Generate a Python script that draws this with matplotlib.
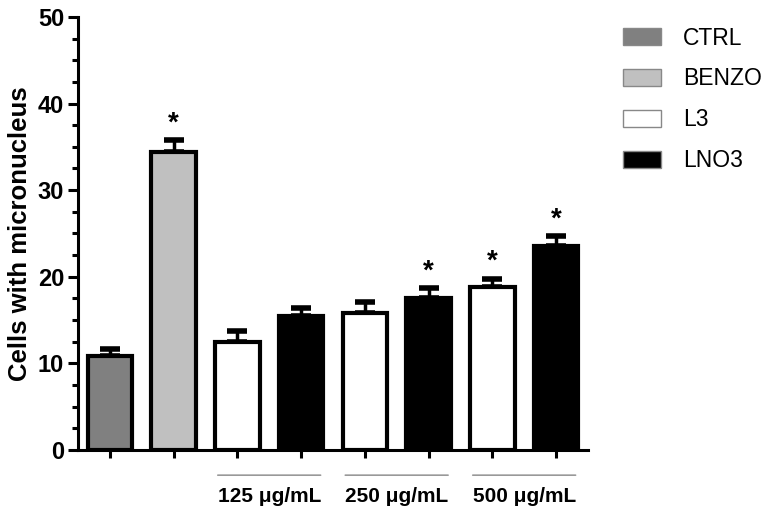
import matplotlib.pyplot as plt
from matplotlib.patches import Patch
from matplotlib.ticker import MultipleLocator

# Data
groups = ["CTRL", "BENZO", "L3", "LNO3", "L3", "LNO3", "L3", "LNO3"]
means = [10.8, 34.4, 12.5, 15.5, 15.8, 17.5, 18.8, 23.5]
errors = [0.9, 1.4, 1.2, 0.9, 1.3, 1.2, 1.0, 1.2]
significant = [False, True, False, False, False, True, True, True]
dose_labels = ["125 \u03bcg/mL", "250 \u03bcg/mL", "500 \u03bcg/mL"]

colors = {"CTRL": "#808080", "BENZO": "#c0c0c0", "L3": "white", "LNO3": "black"}

plt.rcParams["font.family"] = ["Liberation Sans", "DejaVu Sans"]

fig = plt.figure(figsize=(7.75, 5.12), dpi=100)
ax = fig.add_axes([0.1006, 0.121, 0.658, 0.846])

x = list(range(len(means)))
ax.bar(x, means, width=0.7, color=[colors[g] for g in groups],
       edgecolor="black", linewidth=3, zorder=2)
ax.errorbar(x, means, yerr=[[0] * len(errors), errors], fmt="none",
            ecolor="black", elinewidth=2.5, capsize=7.5, capthick=4, zorder=1)

for xi, m, e, s in zip(x, means, errors, significant):
    if s:
        ax.text(xi, m + e + 0.4, "*", ha="center", va="bottom",
                fontsize=20, fontweight="bold")

ax.set_xlim(-0.5, 7.5)
ax.set_ylim(0, 50)
ax.yaxis.set_major_locator(MultipleLocator(10))
ax.yaxis.set_minor_locator(MultipleLocator(2.5))
ax.set_xticks(x)
ax.set_xticklabels([])
ax.tick_params(axis="y", which="major", length=7, width=2.2, labelsize=17, pad=3)
ax.tick_params(axis="y", which="minor", length=4, width=2.2)
ax.tick_params(axis="x", length=6, width=2.2)
for lab in ax.get_yticklabels():
    lab.set_fontweight("bold")
ax.spines["top"].set_visible(False)
ax.spines["right"].set_visible(False)
ax.spines["left"].set_linewidth(2.2)
ax.spines["bottom"].set_linewidth(2.2)
ax.set_ylabel("Cells with micronucleus", fontsize=18.5, fontweight="bold", labelpad=4)

# Dose group lines and labels under the axis
for i, lab in enumerate(dose_labels):
    left = 2 + 2 * i - 0.35
    right = 3 + 2 * i + 0.35
    ax.annotate("", xy=(left, -2.9), xytext=(right, -2.9), xycoords="data",
                annotation_clip=False,
                arrowprops=dict(arrowstyle="-", color="#999999", lw=1.2))
    ax.text((left + right) / 2, -5.4, lab, ha="center", va="center",
            fontsize=15, fontweight="bold", clip_on=False)

handles = [Patch(facecolor=colors[k], edgecolor="#888888", linewidth=1)
           for k in ["CTRL", "BENZO", "L3", "LNO3"]]
fig.legend(handles, ["CTRL", "BENZO", "L3", "LNO3"], loc="upper left",
           bbox_to_anchor=(0.804, 0.948), frameon=False, fontsize=16.5,
           borderpad=0, borderaxespad=0,
           handlelength=1.65, handleheight=0.8, labelspacing=0.78, handletextpad=0.95)

fig.savefig("out.png", dpi=100)
